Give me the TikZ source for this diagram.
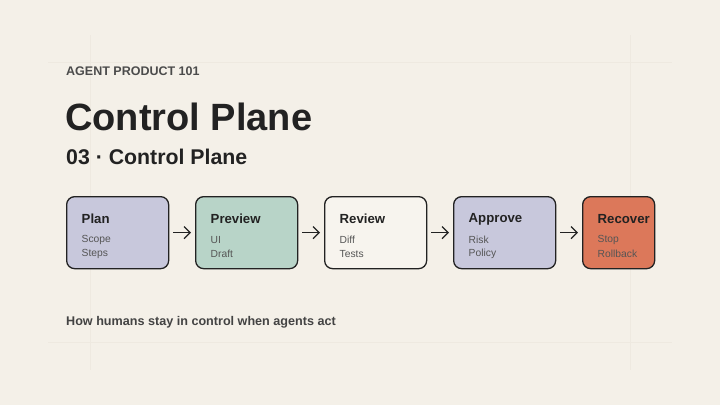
\documentclass[tikz,border=0pt]{standalone}
\usepackage{fontspec}
\setmainfont{Liberation Sans}
\usetikzlibrary{arrows.meta,positioning}
\definecolor{paper}{HTML}{F4F0E8}
\definecolor{gridln}{HTML}{EEE9E0}
\definecolor{ink}{HTML}{222222}
\definecolor{soft}{HTML}{555555}
\definecolor{lilac}{HTML}{C8C8DC}
\definecolor{sage}{HTML}{B8D4C8}
\definecolor{cream}{HTML}{F7F4EE}
\definecolor{coral}{HTML}{DC785A}
\tikzset{
  stage/.style={draw=ink, line width=1.3pt, rounded corners=8pt, anchor=north west,
    minimum height=72pt, inner sep=0pt},
  stagetitle/.style={anchor=west, inner sep=0pt, font=\fontsize{13.2}{15}\selectfont\bfseries, text=ink},
  stageitem/.style={anchor=west, inner sep=0pt, font=\fontsize{10.3}{12}\selectfont, text=soft},
  flow/.style={-{Straight Barb[length=6pt,width=12pt]}, line width=1.3pt, draw=ink}
}
\begin{document}
\begin{tikzpicture}[x=1pt,y=-1pt]
	\fill [paper] (0,0) rectangle (720,405);
	\useasboundingbox (0,0) rectangle (720,405);
	% faint grid
	\draw [gridln, line width=0.6pt] (48,62) -- (672,62);
	\draw [gridln, line width=0.6pt] (48,342) -- (672,342);
	\draw [gridln, line width=0.6pt] (90,35) -- (90,370);
	\draw [gridln, line width=0.6pt] (630,35) -- (630,370);
	% headings
	\node (kicker) [anchor=west, inner sep=0pt, text=soft!80!ink, font=\fontsize{12.5}{14}\selectfont\bfseries] at (66,71) {AGENT PRODUCT 101};
	\node (title) [anchor=west, inner sep=0pt, text=ink, font=\fontsize{38}{42}\selectfont\bfseries] at (65,117) {Control Plane};
	\node (subtitle) [anchor=west, inner sep=0pt, text=ink, font=\fontsize{21.3}{24}\selectfont\bfseries] at (66,157) {03 · Control Plane};
	% stages
	\node (plan) [stage, fill=lilac, minimum width=102pt] at (66,196) {};
	\node (preview) [stage, fill=sage, minimum width=102pt] at (195,196) {};
	\node (review) [stage, fill=cream, minimum width=102pt] at (324,196) {};
	\node (approve) [stage, fill=lilac, minimum width=102pt] at (453,196) {};
	\node (recover) [stage, fill=coral, minimum width=72pt] at (582,196) {};
	\foreach \s/\t/\a/\b in {plan/Plan/Scope/Steps, preview/Preview/UI/Draft,
	    review/Review/Diff/Tests, approve/Approve/Risk/Policy, recover/Recover/Stop/Rollback} {
		\node (\s-t) [stagetitle] at ([xshift=15.5pt,yshift=-23pt]\s.north west) {\t};
		\node (\s-a) [stageitem] at ([xshift=15.5pt,yshift=-44pt]\s.north west) {\a};
		\node (\s-b) [stageitem] at ([xshift=15.5pt,yshift=-58pt]\s.north west) {\b};
	}
	% arrows
	\draw [flow] ([xshift=4pt]plan.east) -- ([xshift=-4pt]preview.west);
	\draw [flow] ([xshift=4pt]preview.east) -- ([xshift=-4pt]review.west);
	\draw [flow] ([xshift=4pt]review.east) -- ([xshift=-4pt]approve.west);
	\draw [flow] ([xshift=4pt]approve.east) -- ([xshift=-4pt]recover.west);
	% footer
	\node (footer) [anchor=west, inner sep=0pt, text=ink!85, font=\fontsize{12.6}{14}\selectfont\bfseries] at (66,322) {How humans stay in control when agents act};
\end{tikzpicture}
\end{document}
